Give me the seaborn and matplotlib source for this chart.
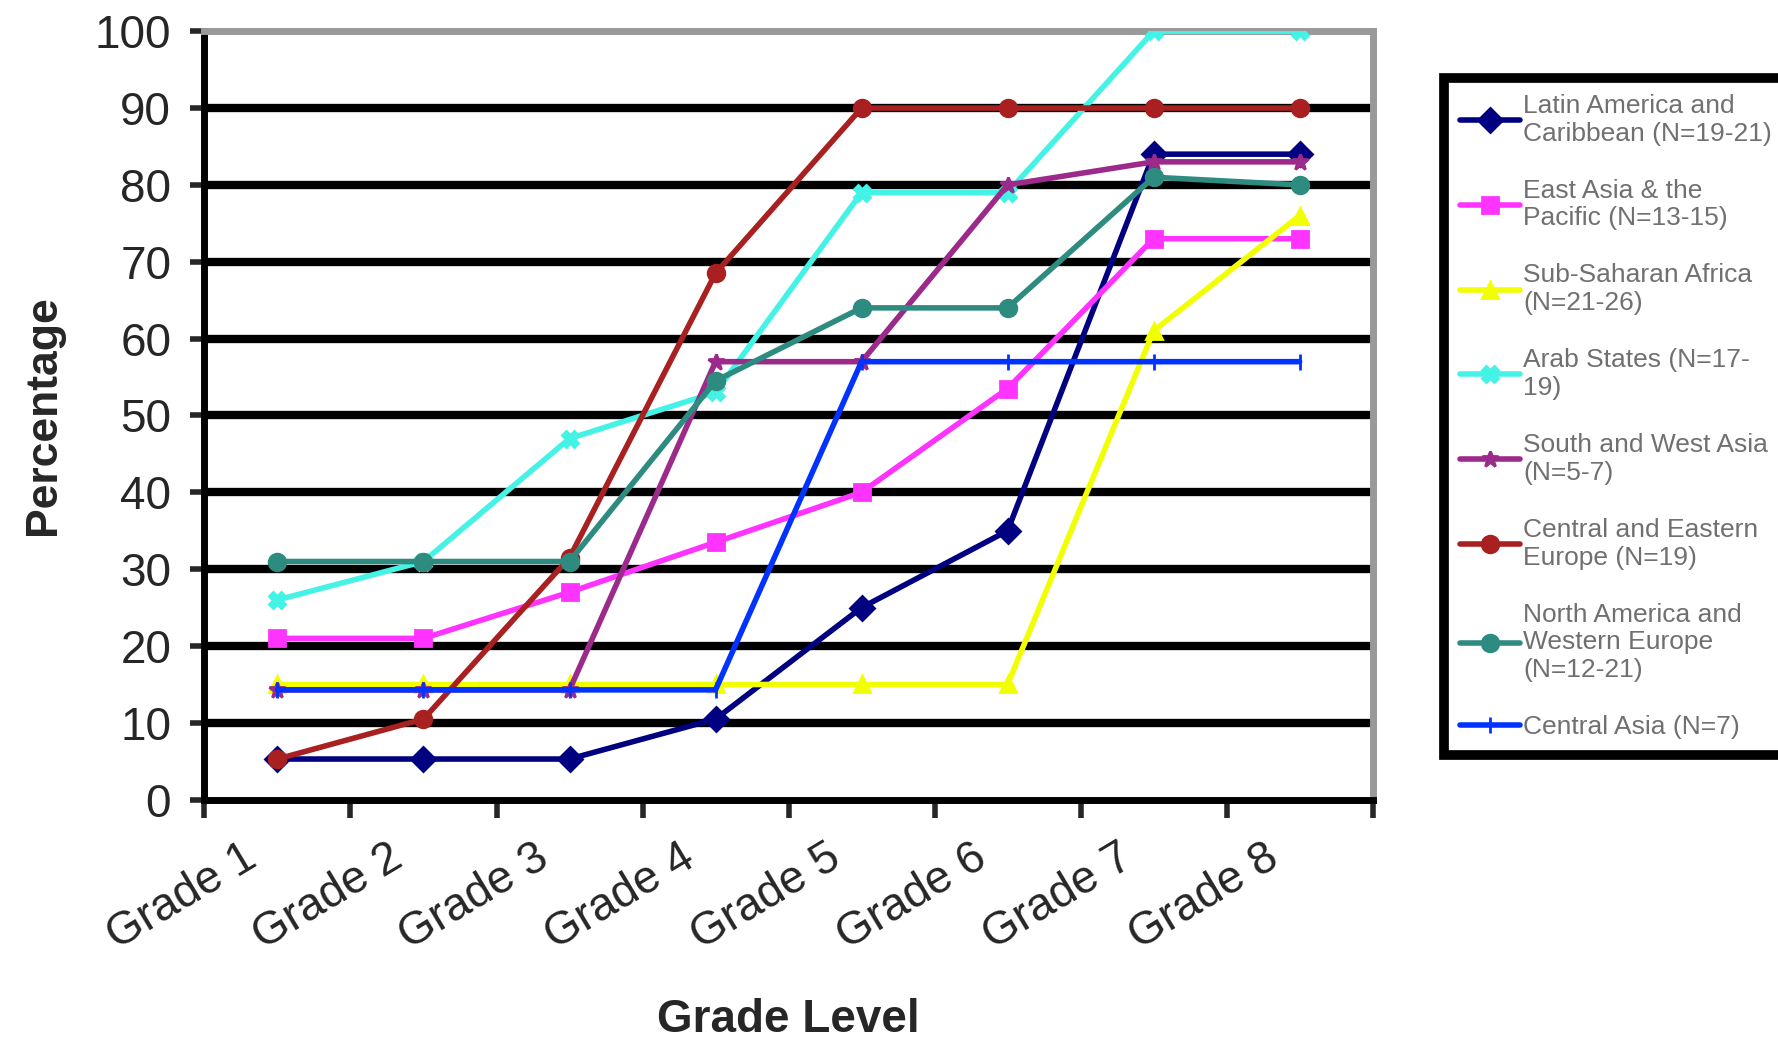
import numpy as np
import pandas as pd
import seaborn as sns
import matplotlib.pyplot as plt
import matplotlib.transforms as mtransforms

sns.set_style("white")
plt.rcParams['font.family'] = ['Liberation Sans', 'DejaVu Sans']

grades = ['Grade 1', 'Grade 2', 'Grade 3', 'Grade 4', 'Grade 5', 'Grade 6', 'Grade 7', 'Grade 8']

regions = [
    'Latin America and\nCaribbean (N=19-21)',
    'East Asia & the\nPacific (N=13-15)',
    'Sub-Saharan Africa\n(N=21-26)',
    'Arab States (N=17-\n19)',
    'South and West Asia\n(N=5-7)',
    'Central and Eastern\nEurope (N=19)',
    'North America and\nWestern Europe\n(N=12-21)',
    'Central Asia (N=7)',
]

latin_america = [5.3, 5.3, 5.3, 10.5, 25, 35, 84, 84]
east_asia = [21, 21, 27, 33.5, 40, 53.5, 73, 73]
sub_saharan = [15, 15, 15, 15, 15, 15, 61, 76]
arab_states = [26, 31, 47, 53, 79, 79, 100, 100]
south_west_asia = [14.3, 14.3, 14.3, 57, 57, 80, 83, 83]
central_eastern_europe = [5.3, 10.5, 31.5, 68.5, 90, 90, 90, 90]
north_america = [31, 31, 31, 54.5, 64, 64, 81, 80]
central_asia = [14.3, 14.3, 14.3, 14.3, 57, 57, 57, 57]

series = [latin_america, east_asia, sub_saharan, arab_states,
          south_west_asia, central_eastern_europe, north_america, central_asia]

colors = ['#000080', '#FF33FF', '#F2FF00', '#44F2E6',
          '#9B2A8A', '#A82020', '#2E8B80', '#0033FF']
markers = ['D', 's', '^', 'X', '*', 'o', 'o', '|']

fig = plt.figure(figsize=(17.78, 10.40), dpi=100)
ax = fig.add_axes([0.115, 0.231, 0.657, 0.739])

# horizontal grid lines
for y in range(10, 100, 10):
    ax.axhline(y, color='black', linewidth=6, zorder=1)

x = np.arange(len(grades))
for reg, vals, c, m in zip(regions, series, colors, markers):
    sns.lineplot(x=x, y=vals, color=c, marker=m, markersize=12,
                 markeredgecolor=c, markeredgewidth=2, linewidth=4,
                 label=reg, ax=ax, zorder=3)

ax.set_xlim(-0.5, 7.5)
ax.set_ylim(0, 100)
ax.set_yticks(range(0, 101, 10))
ax.tick_params(axis='y', labelsize=33, length=10, width=4, direction='out', left=True, pad=14)
ax.set_xticks(range(8))
ax.set_xticklabels(grades, rotation=31, ha='right', rotation_mode='anchor', fontsize=33)
ax.set_xticks(np.arange(-0.5, 8, 1), minor=True)
ax.tick_params(axis='x', which='major', length=0, pad=26)
ax.tick_params(axis='x', which='minor', length=13, width=4, direction='out', bottom=True)

# Excel puts the rotated labels left of the category centre
shift = mtransforms.ScaledTranslation(-0.36, 0, fig.dpi_scale_trans)
for lab in ax.get_xticklabels():
    lab.set_transform(lab.get_transform() + shift)

ax.set_xlabel('Grade Level', fontsize=33, fontweight='bold', labelpad=28)
ax.set_ylabel('Percentage', fontsize=32, fontweight='bold', labelpad=22)

for side in ['left', 'bottom']:
    ax.spines[side].set_color('black')
    ax.spines[side].set_linewidth(5)
for side in ['top', 'right']:
    ax.spines[side].set_color('#999999')
    ax.spines[side].set_linewidth(5)

handles, labels = ax.get_legend_handles_labels()
leg = ax.legend(handles, labels, loc='upper left', bbox_to_anchor=(0.812, 0.925),
                bbox_transform=fig.transFigure, fontsize=19, frameon=True,
                framealpha=1, handlelength=2.3, handletextpad=0.1, labelspacing=1.25,
                borderpad=0.6, borderaxespad=0, fancybox=False)
leg.get_frame().set_edgecolor('black')
leg.get_frame().set_linewidth(7)
for t in leg.get_texts():
    t.set_color('#707070')

fig.savefig('out.png', dpi=100, facecolor='white')
